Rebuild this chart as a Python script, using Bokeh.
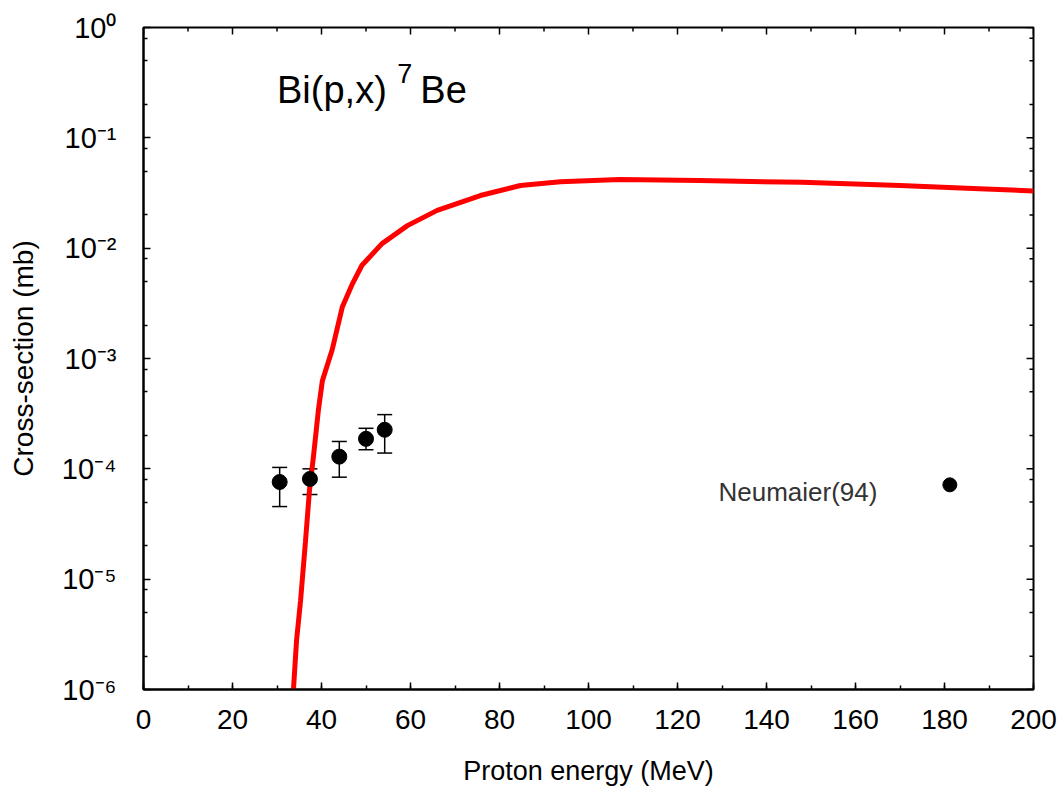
from bokeh.plotting import figure
from bokeh.models import (SingleIntervalTicker, FixedTicker, Range1d,
                          Whisker, ColumnDataSource, TeeHead)
from bokeh.core.properties import value
from bokeh.embed import file_html
from bokeh.resources import INLINE

# ---- model calculation (red curve) ----
curve_energy = [33.7, 34.4, 35.3, 36.4, 37.3, 38.2, 39.3, 40.2, 42.4, 44.7, 47.0,
                49.1, 53.6, 59.3, 66.0, 75.7, 84.7, 93.7, 107.0, 125.0, 148.0,
                170.0, 185.0, 200.0]
curve_xs = [1.0e-6, 2.8e-6, 6.4e-6, 2.2e-5, 6.4e-5, 1.3e-4, 3.4e-4, 6.3e-4, 1.2e-3,
            2.95e-3, 4.8e-3, 7.0e-3, 1.1e-2, 1.6e-2, 2.2e-2, 3.0e-2, 3.7e-2,
            4.0e-2, 4.2e-2, 4.1e-2, 3.95e-2, 3.7e-2, 3.5e-2, 3.3e-2]

# ---- experimental data ----
exp_energy = [30.6, 37.4, 44.0, 50.0, 54.2]
exp_xs = [7.6e-5, 8.1e-5, 1.29e-4, 1.87e-4, 2.26e-4]
exp_lo = [4.55e-5, 5.85e-5, 8.4e-5, 1.49e-4, 1.39e-4]
exp_hi = [1.03e-4, 1.0e-4, 1.77e-4, 2.33e-4, 3.1e-4]

neu_energy = [181.2]
neu_xs = [7.16e-5]
neu_label = "Neumaier(94)"

# ---- axes ----
x_min, x_max = 0, 200
x_major_step = 20
y_exponents = [-6, -5, -4, -3, -2, -1, 0]
y_minor_mult = [2, 5, 8]
y_tick_labels = ["10\u207b\u2076", "10\u207b\u2075", "10\u207b\u2074", "10\u207b\u00b3",
                 "10\u207b\u00b2", "10\u207b\u00b9", "10\u2070"]

FONT = "Liberation Sans"

W, H = 1060, 796
B_LEFT, B_RIGHT, B_TOP, B_BOTTOM = 143, 27, 27, 107
MAJOR_LEN, MINOR_LEN = 7, 4

x_major = list(range(x_min, x_max + 1, x_major_step))
x_minor = [v + x_major_step // 2 for v in x_major[:-1]]
y_major = [10.0 ** e for e in y_exponents]
y_minor = [m * 10.0 ** e for e in y_exponents[:-1] for m in y_minor_mult]

p = figure(width=W, height=H, x_range=Range1d(x_min, x_max),
           y_range=Range1d(y_major[0], y_major[-1]),
           y_axis_type="log", output_backend="svg", toolbar_location=None,
           min_border_left=B_LEFT, min_border_right=B_RIGHT, min_border_top=B_TOP,
           min_border_bottom=B_BOTTOM)
p.background_fill_color = "white"
p.border_fill_color = "white"
p.xgrid.visible = False
p.ygrid.visible = False
p.outline_line_color = "black"
p.outline_line_width = 2

xt = SingleIntervalTicker(interval=x_major_step, num_minor_ticks=2)
yt = FixedTicker(ticks=y_major, minor_ticks=y_minor)


def style_axis(ax):
    ax.axis_line_width = 2
    ax.axis_line_color = "black"
    ax.major_tick_in = MAJOR_LEN
    ax.major_tick_out = 0
    ax.minor_tick_in = MINOR_LEN
    ax.minor_tick_out = 0
    ax.major_tick_line_width = 1.5
    ax.minor_tick_line_width = 1.5
    ax.major_tick_line_color = "black"
    ax.minor_tick_line_color = "black"


xa = p.xaxis[0]
xa.ticker = xt
style_axis(xa)
xa.major_label_text_font = FONT
xa.major_label_text_font_size = "28px"
xa.major_label_text_color = "black"
xa.major_label_standoff = 20
xa.axis_label = "Proton energy (MeV)"
xa.axis_label_text_font = FONT
xa.axis_label_text_font_size = "27px"
xa.axis_label_text_font_style = "normal"
xa.axis_label_text_color = "black"
xa.axis_label_standoff = 24

ya = p.yaxis[0]
ya.ticker = yt
style_axis(ya)
ya.major_label_overrides = dict(zip(y_major, y_tick_labels))
ya.major_label_text_font = FONT
ya.major_label_text_font_size = "29px"
ya.major_label_text_color = "black"
ya.major_label_standoff = 27
ya.axis_label = "Cross-section (mb)"
ya.axis_label_text_font = FONT
ya.axis_label_text_font_size = "28px"
ya.axis_label_text_font_style = "normal"
ya.axis_label_text_color = "black"
ya.axis_label_standoff = 20

# mirrored inward ticks on the top and right frame edges
frame_w = W - B_LEFT - B_RIGHT
frame_h = H - B_TOP - B_BOTTOM
px_per_x = frame_w / (x_max - x_min)
px_per_decade = frame_h / (y_exponents[-1] - y_exponents[0])
y_top = y_major[-1]


def top_tick_end(length):
    return y_top * 10 ** (-length / px_per_decade)


def right_tick_end(length):
    return x_max - length / px_per_x


tick_style = dict(line_color="black", line_width=1.5)
p.segment(x0=x_major, y0=[y_top] * len(x_major), x1=x_major,
          y1=[top_tick_end(MAJOR_LEN)] * len(x_major), **tick_style)
p.segment(x0=x_minor, y0=[y_top] * len(x_minor), x1=x_minor,
          y1=[top_tick_end(MINOR_LEN)] * len(x_minor), **tick_style)
p.segment(x0=[x_max] * len(y_major), y0=y_major,
          x1=[right_tick_end(MAJOR_LEN)] * len(y_major), y1=y_major, **tick_style)
p.segment(x0=[x_max] * len(y_minor), y0=y_minor,
          x1=[right_tick_end(MINOR_LEN)] * len(y_minor), y1=y_minor, **tick_style)

# model curve
p.line(curve_energy, curve_xs, line_color="#ff0000", line_width=5)

# experimental data with error bars
src = ColumnDataSource(dict(x=exp_energy, y=exp_xs, lo=exp_lo, hi=exp_hi))
p.add_layout(Whisker(source=src, base="x", lower="lo", upper="hi",
                     line_color="black", line_width=1.5,
                     upper_head=TeeHead(size=15, line_width=1.5, line_color="black"),
                     lower_head=TeeHead(size=15, line_width=1.5, line_color="black")))
p.scatter("x", "y", source=src, marker="circle", size=15, fill_color="black",
          line_color="black")
p.scatter(neu_energy, neu_xs, marker="circle", size=14, fill_color="black",
          line_color="black")

# data label
p.text(x=[129.2], y=[6.14e-5], text=[neu_label], text_font=value(FONT),
       text_font_size="26px", text_color="#333333", text_align="left",
       text_baseline="alphabetic")

# reaction title Bi(p,x)7Be
p.text(x=[30.0], y=[0.272], text=["Bi(p,x)"], text_font=value(FONT),
       text_font_size="38px", text_color="black", text_baseline="alphabetic")
p.text(x=[57.0], y=[0.38], text=["7"], text_font=value(FONT),
       text_font_size="27px", text_color="black", text_baseline="alphabetic")
p.text(x=[62.2], y=[0.272], text=["Be"], text_font=value(FONT),
       text_font_size="38px", text_color="black", text_baseline="alphabetic")

open("out.html", "w").write(file_html(p, INLINE))
